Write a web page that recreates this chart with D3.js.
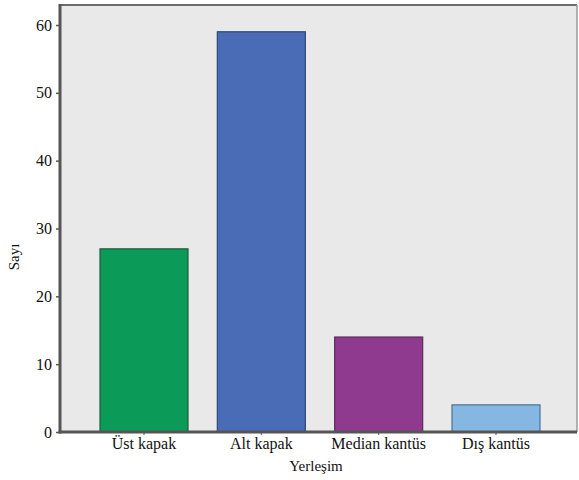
<!DOCTYPE html>
<html>
<head>
<meta charset="utf-8">
<script src="https://cdn.jsdelivr.net/npm/d3@7"></script>
<style>
  html, body { margin: 0; padding: 0; background: #ffffff; }
  svg { display: block; }
  svg text { font-family: "Liberation Serif", "Times New Roman", "DejaVu Serif", serif !important; }
</style>
</head>
<body>
<svg id="chart" width="579" height="480"></svg>
<script>
// Bar chart data: counts per location
const categories = ["Üst kapak", "Alt kapak", "Median kantüs", "Dış kantüs"];
const counts = [27, 59, 14, 4];
const barColors = ["#0b9a57", "#4a6cb6", "#8f3a8f", "#84b8e2"];
const barStrokes = ["#1d5a3a", "#2e4578", "#5a2a5a", "#4f7292"];
const yTicks = [0, 10, 20, 30, 40, 50, 60];

const svg = d3.select("#chart");

const plot = { left: 60, right: 577, top: 5, bottom: 432 };

const x = d3.scaleBand()
  .domain(categories)
  .range([100, 540])
  .paddingInner(0.25)
  .paddingOuter(0);

const y = d3.scaleLinear()
  .domain([0, 60])
  .range([plot.bottom, 25]);

// plot background
svg.append("rect")
  .attr("x", plot.left)
  .attr("y", plot.top)
  .attr("width", plot.right - plot.left)
  .attr("height", plot.bottom - plot.top)
  .attr("fill", "#e9e9e9");

// top and right frame
svg.append("line")
  .attr("x1", plot.left).attr("x2", plot.right)
  .attr("y1", plot.top).attr("y2", plot.top)
  .attr("stroke", "#6a6a6a").attr("stroke-width", 2);
svg.append("line")
  .attr("x1", plot.right).attr("x2", plot.right)
  .attr("y1", plot.top).attr("y2", plot.bottom)
  .attr("stroke", "#9a9a9a").attr("stroke-width", 1.5);

// bars
svg.selectAll("rect.bar")
  .data(categories)
  .join("rect")
  .attr("class", "bar")
  .attr("x", d => x(d))
  .attr("width", x.bandwidth())
  .attr("y", (d, i) => y(counts[i]))
  .attr("height", (d, i) => y(0) - y(counts[i]))
  .attr("fill", (d, i) => barColors[i])
  .attr("stroke", (d, i) => barStrokes[i])
  .attr("stroke-width", 1.2);

// y axis
const yAxis = svg.append("g")
  .attr("transform", `translate(${plot.left},0)`)
  .call(d3.axisLeft(y).tickValues(yTicks).tickSize(4).tickPadding(4).tickFormat(d3.format("d")));
yAxis.attr("font-size", 16);
yAxis.select(".domain").remove();
yAxis.selectAll(".tick line").attr("stroke", "#555").attr("stroke-width", 1.5);
yAxis.selectAll(".tick text").attr("fill", "#111");

// x axis
const xAxis = svg.append("g")
  .attr("transform", `translate(0,${plot.bottom})`)
  .call(d3.axisBottom(x).tickSize(3).tickPadding(3));
xAxis.attr("font-size", 16);
xAxis.select(".domain").remove();
xAxis.selectAll(".tick line").attr("stroke", "#555").attr("stroke-width", 1);
xAxis.selectAll(".tick text").attr("fill", "#111");

// axis lines
svg.append("line")
  .attr("x1", plot.left).attr("x2", plot.left)
  .attr("y1", plot.top - 1).attr("y2", plot.bottom + 1.5)
  .attr("stroke", "#555").attr("stroke-width", 3);
svg.append("line")
  .attr("x1", plot.left - 1.5).attr("x2", plot.right)
  .attr("y1", plot.bottom).attr("y2", plot.bottom)
  .attr("stroke", "#555").attr("stroke-width", 3);

// axis titles
svg.append("text")
  .attr("x", 316).attr("y", 471)
  .attr("text-anchor", "middle")
  .attr("font-size", 15).attr("fill", "#111")
  .text("Yerleşim");

svg.append("text")
  .attr("transform", "translate(19,257) rotate(-90)")
  .attr("text-anchor", "middle")
  .attr("font-size", 15).attr("fill", "#111")
  .text("Sayı");
</script>
</body>
</html>
